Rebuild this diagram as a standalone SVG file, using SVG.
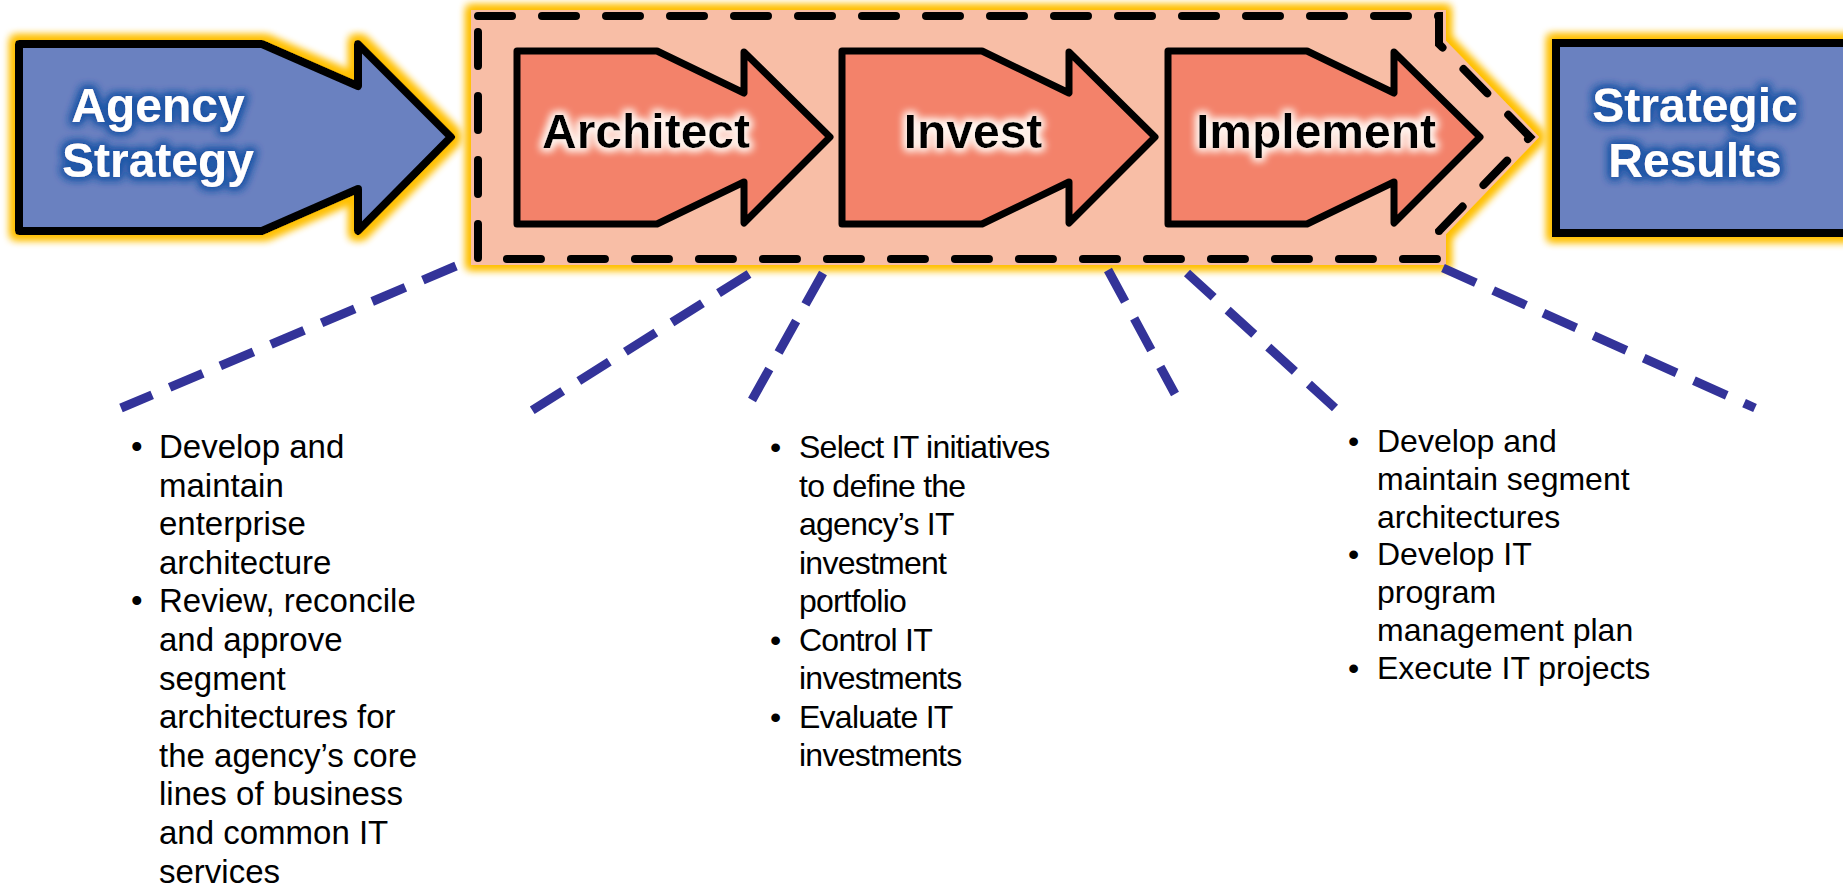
<svg xmlns="http://www.w3.org/2000/svg" width="1843" height="889" viewBox="0 0 1843 889">
<defs>
<style>
.big{font-family:"Liberation Sans",Arial,sans-serif;font-weight:bold;font-size:48px;text-anchor:middle}
.wt{fill:#ffffff}
.bk{fill:#000000}
.body{font-family:"Liberation Sans",Arial,sans-serif;fill:#000000}
.c1{font-size:33px}
.c2{font-size:32px;letter-spacing:-0.75px}
.c3{font-size:32px}
.blueArrow{fill:#6b81c0;stroke:#000;stroke-width:8;stroke-linejoin:round}
.orArrow{fill:#f3826a;stroke:#000;stroke-width:7;stroke-linejoin:round}
.conn{fill:none;stroke:#333399;stroke-width:9;stroke-dasharray:36 19}
</style>
<filter id="glowY" x="-10%" y="-20%" width="120%" height="140%">
<feMorphology in="SourceAlpha" operator="dilate" radius="4" result="d"/>
<feGaussianBlur in="d" stdDeviation="4.5" result="b"/>
<feFlood flood-color="#ffc000"/>
<feComposite in2="b" operator="in" result="g"/>
<feMerge><feMergeNode in="g"/><feMergeNode in="g"/><feMergeNode in="SourceGraphic"/></feMerge>
</filter>
<filter id="glowB" x="-20%" y="-40%" width="140%" height="180%">
<feMorphology in="SourceAlpha" operator="dilate" radius="2" result="d"/>
<feGaussianBlur in="d" stdDeviation="4" result="b"/>
<feFlood flood-color="#1f55a6"/>
<feComposite in2="b" operator="in" result="g"/>
<feMerge><feMergeNode in="g"/><feMergeNode in="g"/><feMergeNode in="SourceGraphic"/></feMerge>
</filter>
<filter id="glowW" x="-20%" y="-40%" width="140%" height="180%">
<feMorphology in="SourceAlpha" operator="dilate" radius="2" result="d"/>
<feGaussianBlur in="d" stdDeviation="4" result="b"/>
<feFlood flood-color="#fff4ee"/>
<feComposite in2="b" operator="in" result="g"/>
<feMerge><feMergeNode in="g"/><feMergeNode in="g"/><feMergeNode in="SourceGraphic"/></feMerge>
</filter>
</defs>
<rect width="1843" height="889" fill="#ffffff"/>

<g id="process-box">
<path d="M471,10 H1446 V41 L1539,137 L1446,234 V265 H471 Z" fill="#f8bea6" filter="url(#glowY)"/>
<path d="M478,16 H1439 V44 L1530,137 L1439,231 V259 H478 Z" fill="none" stroke="#000" stroke-width="8" stroke-dasharray="34 30" stroke-linecap="round"/>
</g>

<g id="agency-strategy">
<path class="blueArrow" d="M19,44 H262 L358,86 V44 L451,137 L358,231 V189 L262,231 H19 Z" filter="url(#glowY)"/>
<text class="big wt" x="158" y="122" filter="url(#glowB)">Agency</text>
<text class="big wt" x="158" y="177" filter="url(#glowB)">Strategy</text>
</g>

<g id="architect">
<path class="orArrow" d="M517,51 H657 L744,93 V52 L830,137 L744,223 V182 L657,224 H517 Z"/>
<text class="big bk" x="646" y="148" filter="url(#glowW)">Architect</text>
</g>

<g id="invest">
<path class="orArrow" d="M842,51 H982 L1069,93 V52 L1155,137 L1069,223 V182 L982,224 H842 Z"/>
<text class="big bk" x="973" y="148" filter="url(#glowW)">Invest</text>
</g>

<g id="implement">
<path class="orArrow" d="M1168,51 H1307 L1394,93 V52 L1480,137 L1394,223 V182 L1307,224 H1168 Z"/>
<text class="big bk" x="1316" y="148" filter="url(#glowW)">Implement</text>
</g>

<g id="strategic-results">
<rect x="1556" y="43" width="300" height="190" fill="#6b81c0" stroke="#000" stroke-width="8" filter="url(#glowY)"/>
<text class="big wt" x="1695" y="122" filter="url(#glowB)">Strategic</text>
<text class="big wt" x="1695" y="177" filter="url(#glowB)">Results</text>
</g>

<g id="connectors">
<line class="conn" x1="456" y1="266" x2="121" y2="408"/>
<line class="conn" x1="749" y1="274" x2="531" y2="411"/>
<line class="conn" x1="823" y1="273" x2="752" y2="400"/>
<line class="conn" x1="1108" y1="270" x2="1175" y2="394"/>
<line class="conn" x1="1187" y1="273" x2="1335" y2="408"/>
<line class="conn" x1="1443" y1="268" x2="1755" y2="408"/>
</g>

<g id="architect-notes" class="body c1">
<text x="131" y="458">•</text>
<text x="159" y="458">Develop and</text>
<text x="159" y="496.6">maintain</text>
<text x="159" y="535.2">enterprise</text>
<text x="159" y="573.8">architecture</text>
<text x="131" y="612.4">•</text>
<text x="159" y="612.4">Review, reconcile</text>
<text x="159" y="651">and approve</text>
<text x="159" y="689.6">segment</text>
<text x="159" y="728.2">architectures for</text>
<text x="159" y="766.8">the agency’s core</text>
<text x="159" y="805.4">lines of business</text>
<text x="159" y="844">and common IT</text>
<text x="159" y="882.6">services</text>
</g>

<g id="invest-notes" class="body c2">
<text x="770" y="458">•</text>
<text x="799" y="458">Select IT initiatives</text>
<text x="799" y="496.5">to define the</text>
<text x="799" y="535">agency’s IT</text>
<text x="799" y="573.5">investment</text>
<text x="799" y="612">portfolio</text>
<text x="770" y="650.5">•</text>
<text x="799" y="650.5">Control IT</text>
<text x="799" y="689">investments</text>
<text x="770" y="727.5">•</text>
<text x="799" y="727.5">Evaluate IT</text>
<text x="799" y="766">investments</text>
</g>

<g id="implement-notes" class="body c3">
<text x="1348" y="452">•</text>
<text x="1377" y="452">Develop and</text>
<text x="1377" y="489.8">maintain segment</text>
<text x="1377" y="527.6">architectures</text>
<text x="1348" y="565.4">•</text>
<text x="1377" y="565.4">Develop IT</text>
<text x="1377" y="603.2">program</text>
<text x="1377" y="641">management plan</text>
<text x="1348" y="678.8">•</text>
<text x="1377" y="678.8">Execute IT projects</text>
</g>
</svg>
